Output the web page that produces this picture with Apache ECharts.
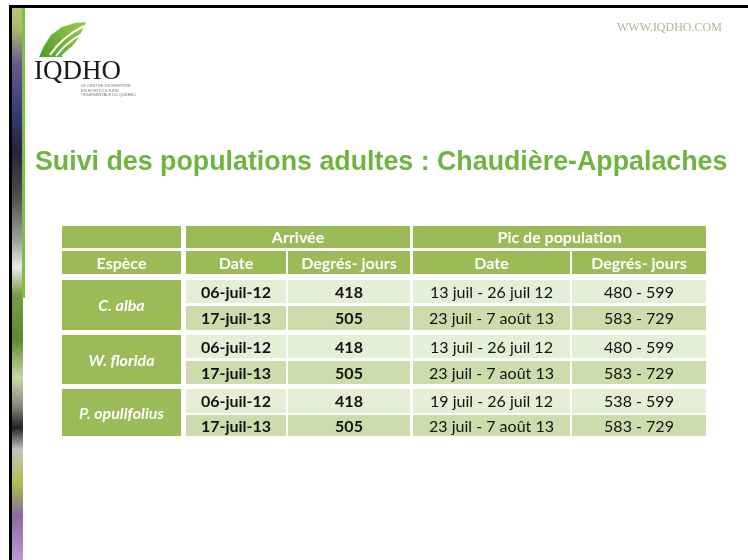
<!DOCTYPE html>
<html>
<head>
<meta charset="utf-8">
<script src="https://cdn.jsdelivr.net/npm/echarts@6/dist/echarts.min.js"></script>
<style>
html, body { margin: 0; padding: 0; background: #fff; }
#chart { width: 748px; height: 560px; }
</style>
</head>
<body>
<div id="chart"></div>
<script>
// table content
var groupHeaders = ['Arrivée', 'Pic de population'];
var subHeaders = ['Espèce', 'Date', 'Degrés- jours', 'Date', 'Degrés- jours'];
var species = ['C. alba', 'W. florida', 'P. opulifolius'];
var arriveeDates = ['06-juil-12', '17-juil-13', '06-juil-12', '17-juil-13', '06-juil-12', '17-juil-13'];
var arriveeDJ = ['418', '505', '418', '505', '418', '505'];
var picDates = ['13 juil - 26 juil 12', '23 juil - 7 août 13', '13 juil - 26 juil 12', '23 juil - 7 août 13', '19 juil - 26 juil 12', '23 juil - 7 août 13'];
var picDJ = ['480 - 599', '583 - 729', '480 - 599', '583 - 729', '538 - 599', '583 - 729'];

// layout of the table (axis units = px inside the grid)
var colEdges = [[0, 119], [124, 224], [226, 348], [351, 508], [510, 644]];
var rowEdges = [[0, 22], [25, 48], [54, 77], [80, 104], [109, 132], [135, 158], [163, 187], [189, 210]];

var GREEN = '#9bbb59';
var LIGHT = '#e6eed5';
var DARK = '#cedcab';

function getID(ID) {
    return document.getElementById(ID);
}

// build list of cells
var cells = [];
cells.push({ c: [0, 0], r: [0, 0], text: '', kind: 'head' });
cells.push({ c: [1, 2], r: [0, 0], text: groupHeaders[0], kind: 'head' });
cells.push({ c: [3, 4], r: [0, 0], text: groupHeaders[1], kind: 'head' });
for (var i = 0; i < subHeaders.length; i++) {
    cells.push({ c: [i, i], r: [1, 1], text: subHeaders[i], kind: 'head' });
}
for (var g = 0; g < species.length; g++) {
    cells.push({ c: [0, 0], r: [2 + g * 2, 3 + g * 2], text: species[g], kind: 'species' });
}
for (var k = 0; k < arriveeDates.length; k++) {
    var kind = (k % 2 == 0) ? 'light' : 'dark';
    cells.push({ c: [1, 1], r: [2 + k, 2 + k], text: arriveeDates[k], kind: kind, bold: true });
    cells.push({ c: [2, 2], r: [2 + k, 2 + k], text: arriveeDJ[k], kind: kind, bold: true });
    cells.push({ c: [3, 3], r: [2 + k, 2 + k], text: picDates[k], kind: kind });
    cells.push({ c: [4, 4], r: [2 + k, 2 + k], text: picDJ[k], kind: kind });
}

var cellData = [];
for (var j = 0; j < cells.length; j++) {
    cellData.push([cells[j].c[0], cells[j].r[0]]);
}

function renderCell(params, api) {
    var cell = cells[params.dataIndex];
    var p0 = api.coord([colEdges[cell.c[0]][0], rowEdges[cell.r[0]][0]]);
    var p1 = api.coord([colEdges[cell.c[1]][1], rowEdges[cell.r[1]][1]]);
    var fill = GREEN, color = '#fff', font = 'bold 16px Lato';
    if (cell.kind == 'species') {
        font = 'italic bold 16px Lato';
    } else if (cell.kind == 'light' || cell.kind == 'dark') {
        fill = cell.kind == 'light' ? LIGHT : DARK;
        color = '#111';
        font = (cell.bold ? 'bold ' : '') + '16px Lato';
    }
    return {
        type: 'group',
        children: [{
            type: 'rect',
            shape: { x: p0[0], y: p0[1], width: p1[0] - p0[0], height: p1[1] - p0[1] },
            style: { fill: fill }
        }, {
            type: 'text',
            x: (p0[0] + p1[0]) / 2,
            y: (p0[1] + p1[1]) / 2 + 1,
            style: { text: cell.text, fill: color, font: font, align: 'center', verticalAlign: 'middle' }
        }]
    };
}

var myChart = echarts.init(getID('chart'));

var option = {
    backgroundColor: '#fff',
    animation: false,
    grid: { left: 62, top: 226, width: 644, height: 210 },
    xAxis: { type: 'value', min: 0, max: 644, show: false },
    yAxis: { type: 'value', min: 0, max: 210, inverse: true, show: false },
    graphic: [
        // slide frame and decorative strip
        {
            type: 'rect', x: 11, y: 8,
            shape: { x: 0, y: 0, width: 12, height: 552 },
            style: {
                fill: new echarts.graphic.LinearGradient(0, 0, 0, 1, [
                    { offset: 0, color: '#b8c870' },
                    { offset: 0.04, color: '#a9b66a' },
                    { offset: 0.1, color: '#6a5a8c' },
                    { offset: 0.18, color: '#3a3f7a' },
                    { offset: 0.26, color: '#25233f' },
                    { offset: 0.34, color: '#4a5048' },
                    { offset: 0.42, color: '#9aa09a' },
                    { offset: 0.47, color: '#e8ece8' },
                    { offset: 0.52, color: '#7a9a48' },
                    { offset: 0.6, color: '#5c8a2c' },
                    { offset: 0.67, color: '#c8d8a0' },
                    { offset: 0.72, color: '#8a8a80' },
                    { offset: 0.76, color: '#222' },
                    { offset: 0.8, color: '#c0c4c0' },
                    { offset: 0.86, color: '#a8c050' },
                    { offset: 0.92, color: '#8a6aa0' },
                    { offset: 1, color: '#b89ad8' }
                ])
            }
        },
        { type: 'rect', x: 22, y: 8, shape: { x: 0, y: 0, width: 3, height: 290 }, style: { fill: '#7cc142' } },
        { type: 'rect', x: 9, y: 5, shape: { x: 0, y: 0, width: 739, height: 3 }, style: { fill: '#000' } },
        { type: 'rect', x: 9, y: 5, shape: { x: 0, y: 0, width: 3, height: 555 }, style: { fill: '#000' } },
        // logo leaf
        {
            type: 'polygon',
            shape: { points: [[39, 57], [62, 57], [70, 49], [77, 40], [82, 31], [86, 22], [75, 23], [62, 27], [51, 35], [44, 46]] },
            style: {
                fill: new echarts.graphic.LinearGradient(0, 1, 1, 0, [
                    { offset: 0, color: '#4f9a2a' },
                    { offset: 1, color: '#9bcf4a' }
                ])
            }
        },
        { type: 'bezierCurve', shape: { x1: 50, y1: 55, cpx1: 62, cpy1: 37, x2: 84, y2: 26 }, style: { stroke: '#fff', lineWidth: 2, fill: null } },
        { type: 'bezierCurve', shape: { x1: 56, y1: 56, cpx1: 66, cpy1: 43, x2: 80, y2: 35 }, style: { stroke: '#fff', lineWidth: 2, fill: null } },
        { type: 'bezierCurve', shape: { x1: 62, y1: 56, cpx1: 68, cpy1: 50, x2: 76, y2: 44 }, style: { stroke: '#fff', lineWidth: 1.5, fill: null } },
        {
            type: 'text', x: 34, y: 58,
            style: { text: 'IQDHO', fill: '#1a1a1a', font: '27px "Liberation Serif"' }
        },
        {
            type: 'text', x: 81, y: 84,
            style: {
                text: "LE CENTRE D'EXPERTISE\nEN HORTICULTURE\nORNEMENTALE DU QUÉBEC",
                fill: '#777', font: '4px "Liberation Sans"', lineHeight: 4.5
            }
        },
        {
            type: 'text', x: 617, y: 22,
            style: { text: 'WWW.IQDHO.COM', fill: '#a3b995', font: '12px "Liberation Serif"' }
        },
        // slide title
        {
            type: 'text', x: 35, y: 149,
            style: {
                text: 'Suivi des populations adultes : Chaudière-Appalaches',
                fill: '#70b43f', font: 'bold 26.8px "Liberation Sans"'
            }
        }
    ],
    series: [{
        type: 'custom',
        renderItem: renderCell,
        clip: false,
        data: cellData
    }]
};
myChart.setOption(option);
</script>
</body>
</html>
